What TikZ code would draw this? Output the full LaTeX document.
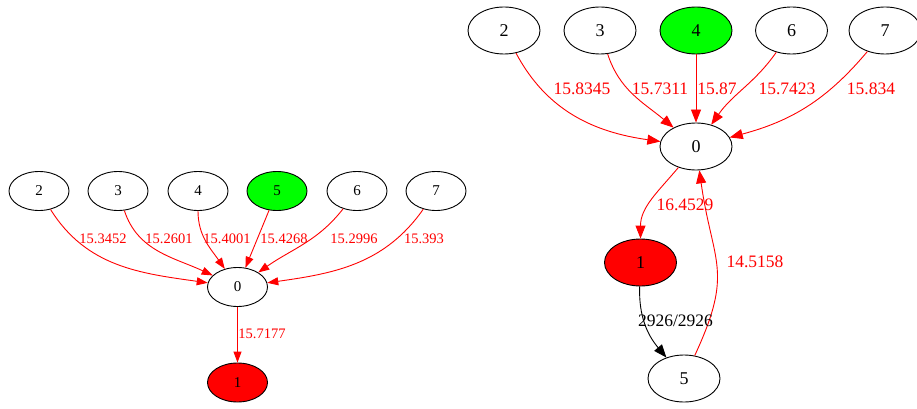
\documentclass[tikz,border=0pt]{standalone}
\usepackage{fontspec}
\setmainfont{Liberation Serif}
\usetikzlibrary{shapes.geometric,arrows.meta}

\begin{document}
\begin{tikzpicture}[
x=1pt, y=-1pt,
line width=0.9pt,
small/.style = {draw, ellipse, inner sep=0pt, minimum width=60pt, minimum height=39pt, font=\fontsize{15}{17}\selectfont},
big/.style = {draw, ellipse, inner sep=0pt, minimum width=72pt, minimum height=47pt, font=\fontsize{18}{20}\selectfont},
sweight/.style = {red, font=\fontsize{14.5}{17}\selectfont},
bweight/.style = {red, font=\fontsize{17.5}{20}\selectfont},
sedge/.style = {red, -{Triangle[length=11pt, width=8pt]}},
bedge/.style = {red, -{Triangle[length=13pt, width=10pt]}} ]
\useasboundingbox (0,0) rectangle (917,409);

% left graph
\node[small] (l2) at (39,191) {2};
\node[small] (l3) at (118,191) {3};
\node[small] (l4) at (198,191) {4};
\node[small, fill=green] (l5) at (277,191) {5};
\node[small] (l6) at (357,191) {6};
\node[small] (l7) at (436,191) {7};
\node[small] (l0) at (237.5,287) {0};
\node[small, fill=red] (l1) at (237.5,382.5) {1};

\draw[sedge] (l2) to [out=-58, in=172] (l0);
\draw[sedge] (l3) to [out=-72, in=155] (l0);
\draw[sedge] (l4) to [out=-90, in=125] (l0);
\draw[sedge] (l5) -- (l0);
\draw[sedge] (l6) to [out=-128, in=35] (l0);
\draw[sedge] (l7) to [out=-125, in=8] (l0);
\draw[sedge] (l0) -- (l1);

\node[sweight] (w2) at (103,239) {15.3452};
\node[sweight] (w3) at (169,239) {15.2601};
\node[sweight] (w4) at (227,239) {15.4001};
\node[sweight] (w5) at (284,239) {15.4268};
\node[sweight] (w6) at (354,239) {15.2996};
\node[sweight] (w7) at (424,239) {15.393};
\node[sweight] (w0) at (262,334) {15.7177};

% right graph
\node[big] (r2) at (504,30.5) {2};
\node[big] (r3) at (600,30.5) {3};
\node[big, fill=green] (r4) at (696,30.5) {4};
\node[big] (r6) at (791.5,30.5) {6};
\node[big] (r7) at (885,30.5) {7};
\node[big] (r0) at (696,146.5) {0};
\node[big, fill=red] (r1) at (640.5,262.5) {1};
\node[big] (r5) at (684,378.5) {5};

\draw[bedge] (r2) to [out=-62, in=172] (r0);
\draw[bedge] (r3) to [out=-72, in=140] (r0);
\draw[bedge] (r4) -- (r0);
\draw[bedge] (r6) to [out=-125, in=55] (r0);
\draw[bedge] (r7) to [out=-130, in=15] (r0);
\draw[bedge] (r0) to [out=-130, in=90] (r1);
\draw[bedge] (r5) to [out=65, in=-82, looseness=1.3] (r0);
\draw[black, -{Triangle[length=13pt, width=10pt]}] (r1) to [out=-92, in=130] (r5);

\node[bweight] (v2) at (582,89) {15.8345};
\node[bweight] (v3) at (660,89) {15.7311};
\node[bweight] (v4) at (717,89) {15.87};
\node[bweight] (v6) at (787,89) {15.7423};
\node[bweight] (v7) at (871,89) {15.834};
\node[bweight] (v0) at (685,205) {16.4529};
\node[bweight] (v5) at (755,262) {14.5158};
\node[bweight, black] (v1) at (675.5,321) {2926/2926};

\end{tikzpicture}
\end{document}
